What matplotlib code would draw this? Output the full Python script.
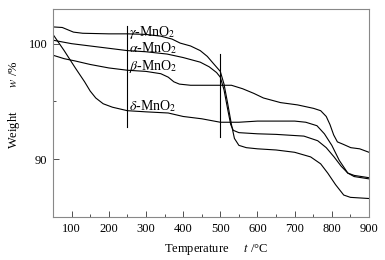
import matplotlib
matplotlib.use("Agg")
import matplotlib.pyplot as plt
from matplotlib.ticker import MultipleLocator

# ---- data ----
gamma_T = [50, 75, 90, 105, 130, 200, 250, 300, 340, 370, 392, 420, 446, 465, 481, 500,
           510, 520, 530, 538, 550, 570, 600, 650, 700, 743, 770, 789, 810, 832, 850, 900]
gamma_W = [101.45, 101.4, 101.2, 101.0, 100.9, 100.85, 100.85, 100.8, 100.65, 100.4, 100.05, 99.8,
           99.4, 98.9, 98.3, 97.6, 96.5, 94.8, 93.0, 91.8, 91.2, 91.0, 90.9, 90.8, 90.6, 90.2,
           89.6, 88.8, 87.8, 86.9, 86.7, 86.6]

alpha_T = [50, 100, 150, 200, 250, 300, 357, 400, 446, 470, 490, 500, 510, 520, 528, 535, 550,
           600, 650, 725, 762, 785, 806, 825, 843, 860, 900]
alpha_W = [100.3, 100.0, 99.8, 99.6, 99.4, 99.3, 99.1, 98.8, 98.4, 98.0, 97.5, 97.1, 96.0, 94.3,
           93.0, 92.5, 92.3, 92.2, 92.15, 92.0, 91.6, 91.0, 90.2, 89.4, 88.8, 88.5, 88.3]

beta_T = [50, 80, 110, 150, 200, 250, 300, 340, 360, 375, 390, 420, 480, 530, 560, 590, 616, 662,
          708, 751, 770, 785, 795, 805, 815, 830, 851, 875, 900]
beta_W = [99.0, 98.7, 98.5, 98.2, 97.9, 97.7, 97.6, 97.4, 97.1, 96.7, 96.5, 96.4, 96.4, 96.4, 96.1,
          95.7, 95.3, 94.9, 94.7, 94.4, 94.2, 93.7, 93.0, 92.1, 91.5, 91.3, 91.0, 90.9, 90.6]

delta_T = [50, 80, 110, 135, 150, 165, 185, 210, 250, 300, 360, 400, 450, 500, 550, 600, 650, 700,
           730, 760, 780, 800, 820, 843, 860, 900]
delta_W = [100.8, 99.4, 97.9, 96.7, 95.9, 95.3, 94.8, 94.5, 94.2, 94.1, 94.0, 93.7, 93.5, 93.2,
           93.2, 93.3, 93.3, 93.3, 93.2, 92.9, 92.2, 91.2, 89.9, 88.8, 88.6, 88.4]

labels = [r"$\gamma$-MnO$_2$", r"$\alpha$-MnO$_2$", r"$\beta$-MnO$_2$", r"$\delta$-MnO$_2$"]
label_T = [254, 254, 254, 254]
label_W = [101.0, 99.6, 98.0, 94.6]

vline_T = [250, 500]
vline_lo = [92.8, 91.9]
vline_hi = [101.5, 99.1]

# ---- style ----
plt.rcParams["font.family"] = ["Liberation Serif", "DejaVu Serif"]
plt.rcParams["mathtext.fontset"] = "stix"
plt.rcParams["font.size"] = 9

fig = plt.figure(figsize=(3.85, 2.6), dpi=100)
ax = fig.add_axes([53 / 385, 43 / 260, 316 / 385, 208 / 260])

for T, W in [(gamma_T, gamma_W), (alpha_T, alpha_W), (beta_T, beta_W), (delta_T, delta_W)]:
    ax.plot(T, W, color="black", lw=0.8)

for t, lo, hi in zip(vline_T, vline_lo, vline_hi):
    ax.plot([t, t], [lo, hi], color="black", lw=0.8)

for s, t, w in zip(labels, label_T, label_W):
    ax.text(t, w, s, ha="left", va="center", fontsize=10)

ax.set_xlim(50, 900)
ax.set_ylim(85, 103)
ax.xaxis.set_major_locator(MultipleLocator(100))
ax.xaxis.set_minor_locator(MultipleLocator(50))
ax.yaxis.set_major_locator(MultipleLocator(10))
ax.yaxis.set_minor_locator(MultipleLocator(5))
ax.tick_params(which="both", direction="in", color="#333333", width=0.6, labelsize=9, pad=4)
ax.tick_params(which="major", length=4)
ax.tick_params(which="minor", length=2.5)
for sp in ax.spines.values():
    sp.set_color("#888888")
    sp.set_linewidth(0.8)

ax.set_xlabel("Temperature     $t$ /°C", fontsize=9)
ax.set_ylabel("Weight        $w$ /%", fontsize=9)
ax.xaxis.set_label_coords(0.516, -0.12)
ax.yaxis.set_label_coords(-0.098, 0.54)

fig.savefig("out.png", dpi=100, facecolor="white")
